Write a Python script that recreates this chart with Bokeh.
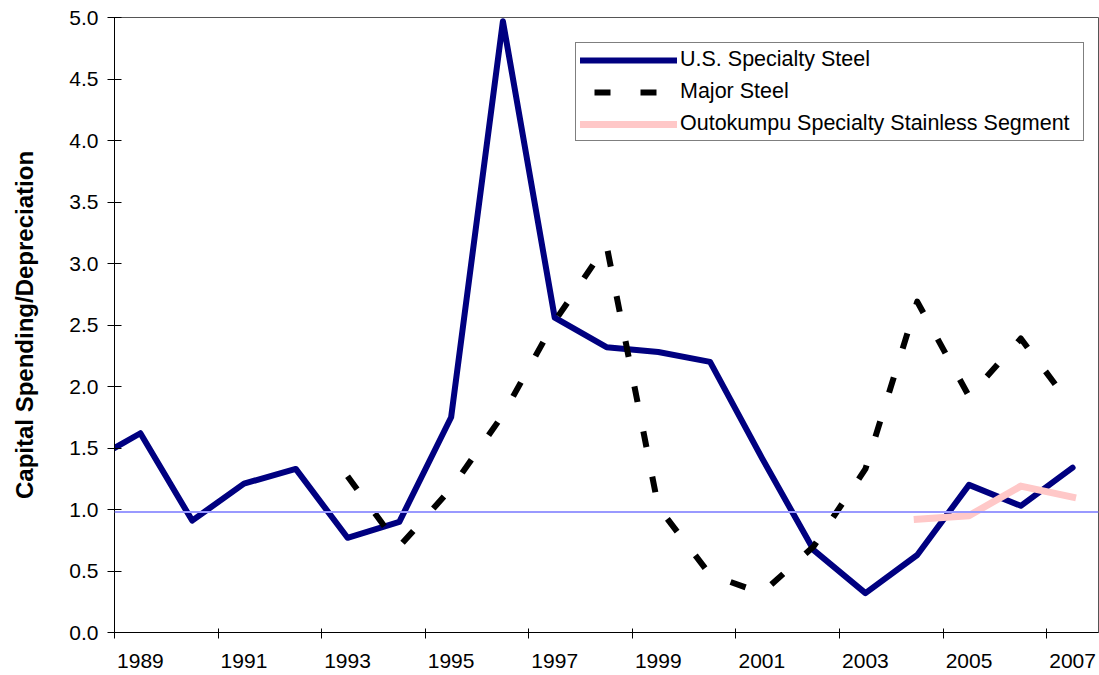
from bokeh.plotting import figure
from bokeh.models import Range1d, FixedTicker, Span, Legend, LegendItem, NumeralTickFormatter
from bokeh.embed import file_html
from bokeh.resources import INLINE

# ---------------- data ----------------
years = list(range(1988, 2008))
us_specialty = [1.38, 1.62, 0.91, 1.21, 1.33, 0.77, 0.90, 1.75, 4.97, 2.56,
                2.32, 2.28, 2.20, 1.42, 0.67, 0.32, 0.63, 1.20, 1.03, 1.34]

major_years = list(range(1993, 2008))
major_steel = [1.27, 0.70, 1.17, 1.77, 2.53, 3.15, 1.02, 0.47, 0.32, 0.70,
               1.33, 2.69, 1.92, 2.39, 1.83]

outo_years = [2004, 2005, 2006, 2007]
outokumpu = [0.92, 0.95, 1.19, 1.10]

ref_level = 0.98

label_years = [1989, 1991, 1993, 1995, 1997, 1999, 2001, 2003, 2005, 2007]
y_ticks = [0.0, 0.5, 1.0, 1.5, 2.0, 2.5, 3.0, 3.5, 4.0, 4.5, 5.0]

series_names = ["U.S. Specialty Steel", "Major Steel",
                "Outokumpu Specialty Stainless Segment"]

FONT = "Liberation Sans"

# ---------------- figure ----------------
p = figure(width=1099, height=675, output_backend="svg", toolbar_location=None,
           x_range=Range1d(1988.5, 2007.5), y_range=Range1d(0, 5),
           min_border_left=114, min_border_right=1, min_border_top=17,
           min_border_bottom=43)
p.background_fill_color = "white"
p.border_fill_color = "white"
p.outline_line_color = "#555555"
p.outline_line_width = 1
p.xgrid.visible = False
p.ygrid.visible = False

blue = p.line(years, us_specialty, line_color="#000080", line_width=6,
              line_join="round", line_cap="round")
dash = p.line(major_years, major_steel, line_color="black", line_width=6,
              line_dash="16 30", line_join="round")
pink = p.line(outo_years, outokumpu, line_color="#FFC8C8", line_width=7,
              line_join="round", line_cap="square")
# hidden copy of the dashed series, used only for the legend key (dash phase)
dash_key = p.line(major_years, major_steel, line_color="black", line_width=6,
                  line_dash="16 30", line_dash_offset=32, visible=False)

ref = Span(location=ref_level, dimension="width", line_color="#9999FF",
           line_width=2)
p.add_layout(ref)

# x axis
xa = p.xaxis[0]
xa.ticker = FixedTicker(ticks=label_years,
                        minor_ticks=[y - 0.5 for y in label_years])
xa.major_label_overrides = {y: str(y) for y in label_years}
xa.major_tick_line_color = None
xa.major_tick_in = 0
xa.major_tick_out = 0
xa.minor_tick_line_color = "black"
xa.minor_tick_in = 4
xa.minor_tick_out = 6
xa.axis_line_color = "black"
xa.major_label_standoff = 15
xa.major_label_text_font = FONT
xa.major_label_text_font_size = "21px"
xa.major_label_text_color = "black"

# y axis
ya = p.yaxis[0]
ya.ticker = FixedTicker(ticks=y_ticks)
ya.formatter = NumeralTickFormatter(format="0.0")
ya.minor_tick_line_color = None
ya.major_tick_in = 7
ya.major_tick_out = 7
ya.major_tick_line_color = "black"
ya.axis_line_color = "black"
ya.major_label_standoff = 9
ya.major_label_text_font = FONT
ya.major_label_text_font_size = "21px"
ya.major_label_text_color = "black"
ya.axis_label = "Capital Spending/Depreciation"
ya.axis_label_text_font = FONT
ya.axis_label_text_font_size = "24px"
ya.axis_label_text_font_style = "bold"
ya.axis_label_text_color = "black"
ya.axis_label_standoff = 28

legend = Legend(items=[
    LegendItem(label=series_names[0], renderers=[blue]),
    LegendItem(label=series_names[1], renderers=[dash_key]),
    LegendItem(label=series_names[2], renderers=[pink]),
], location=(461, 491))
legend.margin = 0
legend.padding = 4
legend.spacing = 7
legend.glyph_width = 97
legend.glyph_height = 24
legend.label_height = 24
legend.label_width = 399
legend.label_standoff = 3
legend.label_text_font = FONT
legend.label_text_font_size = "21.5px"
legend.label_text_color = "black"
legend.border_line_color = "black"
legend.border_line_width = 1
legend.background_fill_color = "white"
legend.background_fill_alpha = 1.0
legend.inactive_fill_alpha = 0.0
p.add_layout(legend)

open("out.html", "w").write(file_html(p, INLINE))
